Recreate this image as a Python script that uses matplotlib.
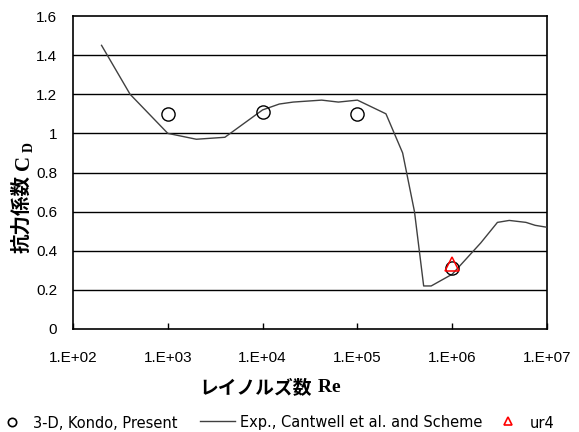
import matplotlib
matplotlib.use("Agg")
import matplotlib.pyplot as plt
from matplotlib.lines import Line2D
from matplotlib.ticker import FixedLocator, NullLocator

# Experimental drag curve (Cantwell et al.)
exp_re = [2e2, 4e2, 1e3, 2e3, 4e3, 1e4, 1.5e4, 2.1e4, 4.2e4, 6.3e4, 1e5,
          2e5, 3e5, 4e5, 5e5, 6e5, 1e6, 2e6, 3e6, 4e6, 6e6, 7.5e6, 1e7]
exp_cd = [1.45, 1.20, 1.00, 0.97, 0.98, 1.12, 1.15, 1.16, 1.17, 1.16, 1.17,
          1.10, 0.90, 0.60, 0.22, 0.22, 0.28, 0.44, 0.545, 0.555, 0.545, 0.53, 0.52]

# 3-D computation (Kondo)
kondo_re = [1e3, 1e4, 1e5, 1e6]
kondo_cd = [1.10, 1.11, 1.10, 0.31]

# ur4 scheme
ur4_re = [1e6]
ur4_cd = [0.33]

y_ticks = [0, 0.2, 0.4, 0.6, 0.8, 1.0, 1.2, 1.4, 1.6]
y_labels = ["0", "0.2", "0.4", "0.6", "0.8", "1", "1.2", "1.4", "1.6"]
x_ticks = [1e2, 1e3, 1e4, 1e5, 1e6, 1e7]
x_labels = ["1.E+02", "1.E+03", "1.E+04", "1.E+05", "1.E+06", "1.E+07"]
legend_labels = ["3-D, Kondo, Present", "Exp., Cantwell et al. and Scheme", "ur4"]

W, H = 579, 432
fig = plt.figure(figsize=(W / 100, H / 100), dpi=100)
ax = fig.add_axes([73 / W, 1 - 329 / H, (547 - 73) / W, (329 - 16) / H])


def fx(px):
    return px / W


def fy(py):
    return 1 - py / H


ax.set_xscale("log")
ax.set_xlim(1e2, 1e7)
ax.set_ylim(0, 1.6)

ax.plot(exp_re, exp_cd, color="#404040", lw=1.0, zorder=3)
ax.plot(kondo_re, kondo_cd, ls="none", marker="o", ms=9.5, mfc="none",
        mec="black", mew=1.0, zorder=4)
ax.plot(ur4_re, ur4_cd, ls="none", marker="^", ms=10, mfc="none",
        mec="red", mew=1.1, zorder=5)

for y in y_ticks[1:-1]:
    ax.axhline(y, color="black", lw=1.0, zorder=1)

for s in ax.spines.values():
    s.set_color("black")
    s.set_linewidth(1.2)

ax.xaxis.set_major_locator(FixedLocator(x_ticks))
ax.xaxis.set_minor_locator(NullLocator())
ax.set_xticklabels(x_labels, fontsize=11, family="Liberation Sans")
ax.tick_params(axis="x", direction="in", length=4, width=1, pad=15.5)

ax.set_yticks(y_ticks)
ax.set_yticklabels(y_labels, fontsize=11, family="Liberation Sans")
ax.tick_params(axis="y", length=0, pad=11.5)

# x-axis title
fig.text(fx(312), fy(388), "レイノルズ数", ha="right", va="center",
         fontsize=13.5, fontweight="bold", family="Noto Sans CJK JP")
fig.text(fx(313), fy(388), " Re", ha="left", va="center",
         fontsize=14, fontweight="bold", family="Liberation Serif")

# y-axis title
fig.text(fx(22), fy(253), "抗力係数", rotation=90, ha="center", va="bottom",
         fontsize=14, fontweight="bold", family="Noto Sans CJK JP")
fig.text(fx(24), fy(170), "C", rotation=90, ha="center", va="bottom",
         fontsize=15, fontweight="bold", family="Liberation Serif")
fig.text(fx(29.5), fy(152), "D", rotation=90, ha="center", va="bottom",
         fontsize=10, fontweight="bold", family="Liberation Serif")

# legend along the bottom, laid out item by item
leg_y = fy(423)
fig.add_artist(Line2D([fx(12)], [fy(422)], ls="none", marker="o", ms=6,
                      mfc="none", mec="black", mew=1.2))
fig.add_artist(Line2D([fx(200), fx(235)], [fy(421), fy(421)],
                      color="#404040", lw=1.0))
fig.add_artist(Line2D([fx(508)], [fy(421)], ls="none", marker="^", ms=6,
                      mfc="none", mec="red", mew=1.2))
for x0, lab in zip([33, 240, 530], legend_labels):
    fig.text(fx(x0), leg_y, lab, ha="left", va="center",
             fontsize=10.5, family="DejaVu Sans")

fig.savefig("out.png", dpi=100)
